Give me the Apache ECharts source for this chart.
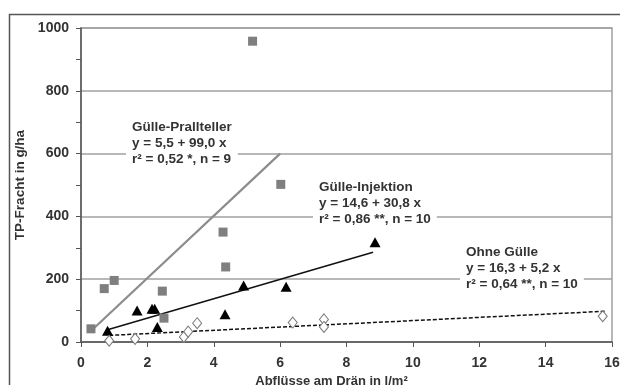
<!DOCTYPE html>
<html><head><meta charset="utf-8">
<script src="https://cdn.jsdelivr.net/npm/echarts@6/dist/echarts.min.js"></script>
<style>html,body{margin:0;padding:0;background:#fff}#c{width:620px;height:385px}</style>
</head><body><div id="c"></div>
<script>
// Data
const pralltellerX = [0.3, 0.7, 1.0, 2.45, 2.5, 4.28, 4.36, 5.17, 6.02];
const pralltellerY = [42, 170, 196, 162, 76, 350, 239, 958, 502];
const injektionX = [0.8, 1.69, 2.14, 2.22, 2.3, 4.34, 4.9, 6.18, 8.86];
const injektionY = [36, 100, 106, 106, 48, 88, 180, 176, 318];
const ohneX = [0.85, 1.63, 3.1, 3.23, 3.5, 6.38, 7.32, 7.32, 15.72];
const ohneY = [4, 10, 16, 33, 60, 62, 72, 48, 82];
const pralltellerLine = [[0.3, 35], [6.0, 600]];
const injektionLine = [[0.8, 39], [8.8, 286]];
const ohneLine = [[0.85, 21], [15.8, 98]];
const xTicks = [0, 2, 4, 6, 8, 10, 12, 14, 16];
const yTicks = [0, 200, 400, 600, 800, 1000];

const zip = (a, b) => a.map((v, i) => [v, b[i]]);
const chart = echarts.init(document.getElementById('c'), null, {renderer: 'canvas'});
const FF = '"Liberation Sans", Arial, sans-serif';
const lblFont = {fontFamily: FF, fontWeight: 'bold', fontSize: 14, color: '#333', formatter: v => String(v)};
const txt = (x, y, lines) => ({
  type: 'text', left: x, top: y, z: 100,
  style: {text: lines.join('\n'), font: 'bold 13.5px ' + FF,
    fill: '#333', lineHeight: 16, backgroundColor: '#fff', padding: [0, 6, 0, 6]}
});
chart.setOption({
  animation: false,
  grid: {left: 81, top: 28, right: 8, bottom: 43, show: true, borderColor: '#a0a0a0', borderWidth: 1.5,
    containLabel: false, outerBoundsMode: 'none'},
  xAxis: {
    type: 'value', min: xTicks[0], max: xTicks[xTicks.length - 1], interval: 2,
    name: 'Abflüsse am Drän in l/m²', nameLocation: 'middle', nameGap: 32,
    nameTextStyle: {fontFamily: FF, fontWeight: 'bold', fontSize: 13, color: '#333', padding: [0, 30, 0, 0]},
    axisLine: {show: true, onZero: false, lineStyle: {color: '#555', width: 1.5}},
    axisTick: {show: true, length: 5, lineStyle: {color: '#555'}},
    axisLabel: Object.assign({}, lblFont, {margin: 14}),
    splitLine: {show: false}
  },
  yAxis: {
    type: 'value', min: yTicks[0], max: yTicks[yTicks.length - 1], interval: 200,
    name: 'TP-Fracht in g/ha', nameLocation: 'middle', nameGap: 52,
    nameTextStyle: {fontFamily: FF, fontWeight: 'bold', fontSize: 13.5, color: '#333'},
    axisLine: {show: true, lineStyle: {color: '#555', width: 1.5}},
    axisTick: {show: true, length: 5, lineStyle: {color: '#555'}},
    minorTick: {show: true, splitNumber: 2, length: 5, lineStyle: {color: '#555'}},
    axisLabel: Object.assign({}, lblFont, {margin: 12}),
    splitLine: {show: true, lineStyle: {color: '#a0a0a0', width: 1.5}}
  },
  series: [
    {type: 'line', data: pralltellerLine, symbol: 'none', lineStyle: {color: '#8c8c8c', width: 2.2}, z: 2},
    {type: 'line', data: injektionLine, symbol: 'none', lineStyle: {color: '#111', width: 1.5}, z: 2},
    {type: 'line', data: ohneLine, symbol: 'none', lineStyle: {color: '#111', width: 1.5, type: [4, 2]}, z: 2},
    {type: 'scatter', data: zip(pralltellerX, pralltellerY), symbol: 'rect', symbolSize: 9,
      itemStyle: {color: '#7f7f7f', opacity: 1}, z: 3},
    {type: 'scatter', data: zip(injektionX, injektionY), symbol: 'triangle', symbolSize: [11, 10],
      itemStyle: {color: '#000', opacity: 1}, z: 3},
    {type: 'scatter', data: zip(ohneX, ohneY), symbol: 'diamond', symbolSize: [9, 11],
      itemStyle: {color: '#fff', borderColor: '#777', borderWidth: 1, opacity: 1}, z: 3}
  ],
  graphic: [
    {type: 'rect', left: 7, top: 12, z: -1, silent: true,
      shape: {width: 640, height: 400}, style: {fill: 'none', stroke: '#555', lineWidth: 1.5}},
    txt(126, 119, ['Gülle-Prallteller', 'y = 5,5 + 99,0 x', 'r² = 0,52 *, n = 9']),
    txt(313, 179, ['Gülle-Injektion', 'y = 14,6 + 30,8 x', 'r² = 0,86 **, n = 10']),
    txt(460, 244, ['Ohne Gülle', 'y = 16,3 + 5,2 x', 'r² = 0,64 **, n = 10'])
  ]
});
</script></body></html>
